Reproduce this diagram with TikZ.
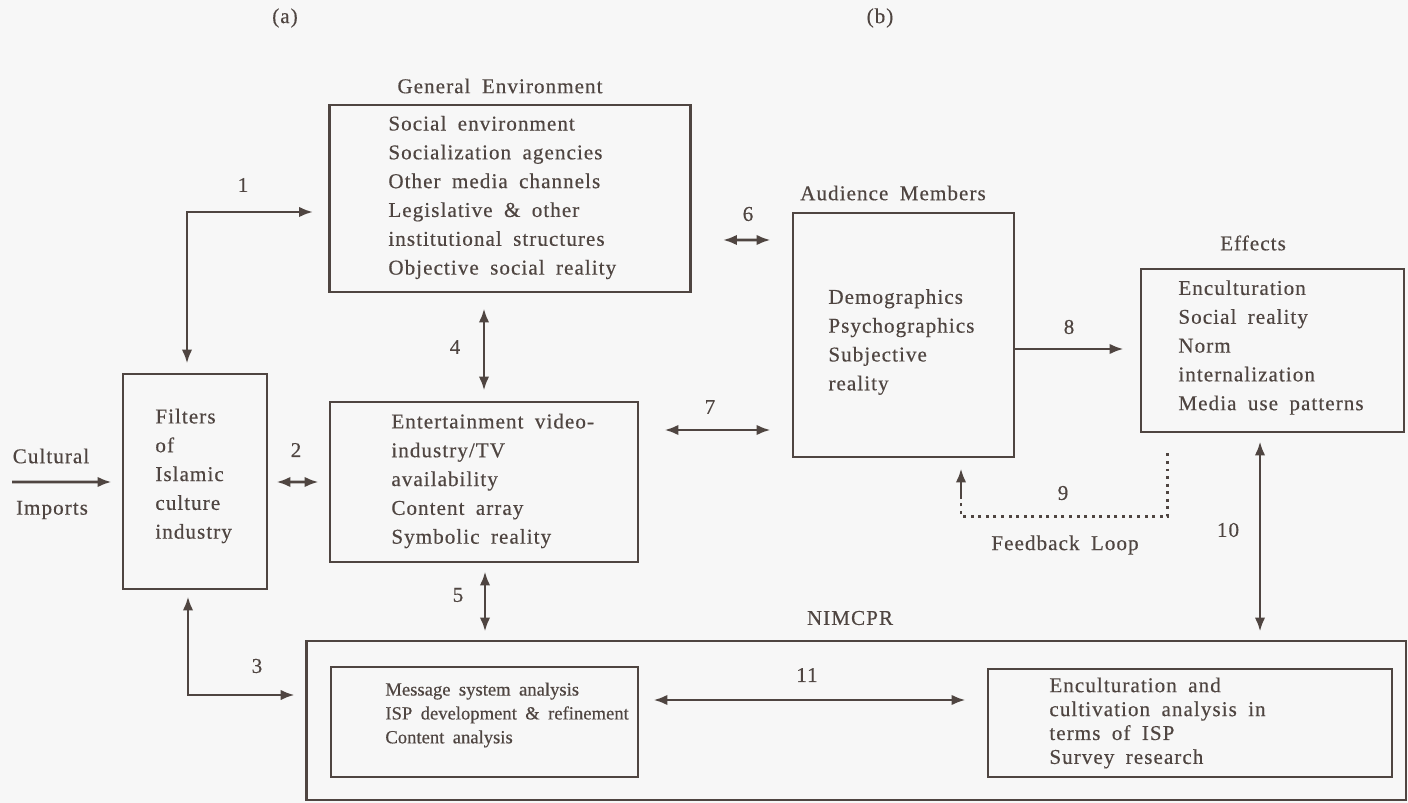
\documentclass[tikz,border=0pt]{standalone}
\usepackage{fontspec}
\setmainfont{Liberation Serif}[LetterSpace=5,WordSpace=1.8,FakeBold=0.4]
\usepackage{xcolor}
\usetikzlibrary{arrows.meta,calc}
\definecolor{ink}{HTML}{4F4541}
\definecolor{paper}{HTML}{F7F7F7}

\begin{document}
\begin{tikzpicture}[x=0.02cm,y=-0.02cm,line width=1.6pt,color=ink,>={Latex[length=8pt,width=6pt]},font=\fontsize{12}{16.4}\selectfont]
    \tikzstyle{box}=[rectangle,draw,line width=1.6pt]
    \tikzstyle{txt}=[align=left,anchor=west,inner sep=0pt]
    \tikzstyle{smalltxt}=[txt,font=\fontsize{10.6}{13.6}\selectfont\addfontfeature{LetterSpace=0}]
    \tikzstyle{closetxt}=[txt,font=\fontsize{12}{13.6}\selectfont]
    \tikzstyle{loopline}=[dash pattern=on 1.7pt off 2.6pt]

    \useasboundingbox (0,0) rectangle (1408,803);
    \fill[paper] (0,0) rectangle (1408,803);

    % boxes
    \node[box,minimum width=2.88cm,minimum height=4.3cm] (filters) at (195,481.5) {};
    \node[box,minimum width=7.22cm,minimum height=3.74cm] (genenv) at (510,198.5) {};
    \node[box,minimum width=6.16cm,minimum height=3.2cm] (ent) at (484,482) {};
    \node[box,minimum width=4.42cm,minimum height=4.88cm] (aud) at (903.5,335) {};
    \node[box,minimum width=5.26cm,minimum height=3.26cm] (eff) at (1272.5,350.5) {};
    \node[box,minimum width=22cm,minimum height=3.18cm] (nimcpr) at (856,720.5) {};
    \node[box,minimum width=6.14cm,minimum height=2.2cm] (msg) at (484.5,722) {};
    \node[box,minimum width=8.08cm,minimum height=2.16cm] (enc) at (1190,723) {};

    % box contents
    \node[txt] (filterstxt) at (154,476) {Filters\\of\\Islamic\\culture\\industry};
    \node[txt] (genenvtxt) at (387,197.5) {Social environment\\Socialization agencies\\Other media channels\\Legislative \& other\\institutional structures\\Objective social reality};
    \node[txt] (enttxt) at (390,481) {Entertainment video-\\industry/TV\\availability\\Content array\\Symbolic reality};
    \node[txt] (audtxt) at (827,342) {Demographics\\Psychographics\\Subjective\\reality};
    \node[txt] (efftxt) at (1177,347.5) {Enculturation\\Social reality\\Norm\\internalization\\Media use patterns};
    \node[smalltxt] (msgtxt) at (384,715) {Message system analysis\\ISP development \& refinement\\Content analysis};
    \node[closetxt] (enctxt) at (1048,723) {Enculturation and\\cultivation analysis in\\terms of ISP\\Survey research};

    % titles
    \node (parta) at (285,18) {(a)};
    \node (partb) at (880,18) {(b)};
    \node (genenvttl) at (500,86) {General Environment};
    \node (audttl) at (893,193) {Audience Members};
    \node (effttl) at (1253,243) {Effects};
    \node (nimcprttl) at (850,618) {NIMCPR};
    \node (cultural) at (51,456) {Cultural};
    \node (imports) at (52,510) {Imports};
    \node (fbloop) at (1065,545) {Feedback Loop};

    % links
    \coordinate (src) at (12,482);
    \draw[->] (src) -- ($(filters.west)+(-10,0.5)$);
    \draw[<->] ($(filters.north)+(-8,-9)$) |- ($(genenv.west)+(-15,13.5)$);
    \draw[<->] ($(filters.east)+(8,0.5)$) -- ($(ent.west)+(-10,0)$);
    \draw[<->] ($(filters.south)+(-7,6)$) |- ($(nimcpr.west)+(-10,-25.5)$);
    \draw[<->] ($(genenv.south -| ent.north)+(0,15)$) -- ($(ent.north)+(0,-10)$);
    \draw[<->] ($(ent.south)+(1,8)$) -- ($(ent.south |- nimcpr.north)+(1,-8)$);
    \draw[<->] ($(genenv.east)+(31,41.5)$) -- ($(aud.west)+(-21,-95)$);
    \draw[<->] ($(ent.east)+(25,-52)$) -- ($(aud.west)+(-21,95)$);
    \draw[->] ($(aud.east)+(0,14)$) -- ($(eff.west)+(-16,-1.5)$);
    \draw[loopline] ($(eff.south west)+(28,20)$) -- ++(0,63) -| ($(aud.south)+(57.5,38)$);
    \draw[->] ($(aud.south)+(57.5,38)$) -- ($(aud.south)+(57.5,10)$);
    \draw[<->] ($(eff.south)+(-12.5,8)$) -- ($(eff.south |- nimcpr.north)+(-12.5,-8)$);
    \draw[<->] ($(msg.east)+(14,-22)$) -- ($(enc.west)+(-21,-23)$);

    % link numbers
    \node (n1) at (243,185) {1};
    \node (n2) at (296,450) {2};
    \node (n3) at (257,666) {3};
    \node (n4) at (455,347) {4};
    \node (n5) at (458,595) {5};
    \node (n6) at (748,214) {6};
    \node (n7) at (710,407) {7};
    \node (n8) at (1069,327) {8};
    \node (n9) at (1063,493) {9};
    \node (n10) at (1228,530) {10};
    \node (n11) at (807,675) {11};
\end{tikzpicture}
\end{document}
